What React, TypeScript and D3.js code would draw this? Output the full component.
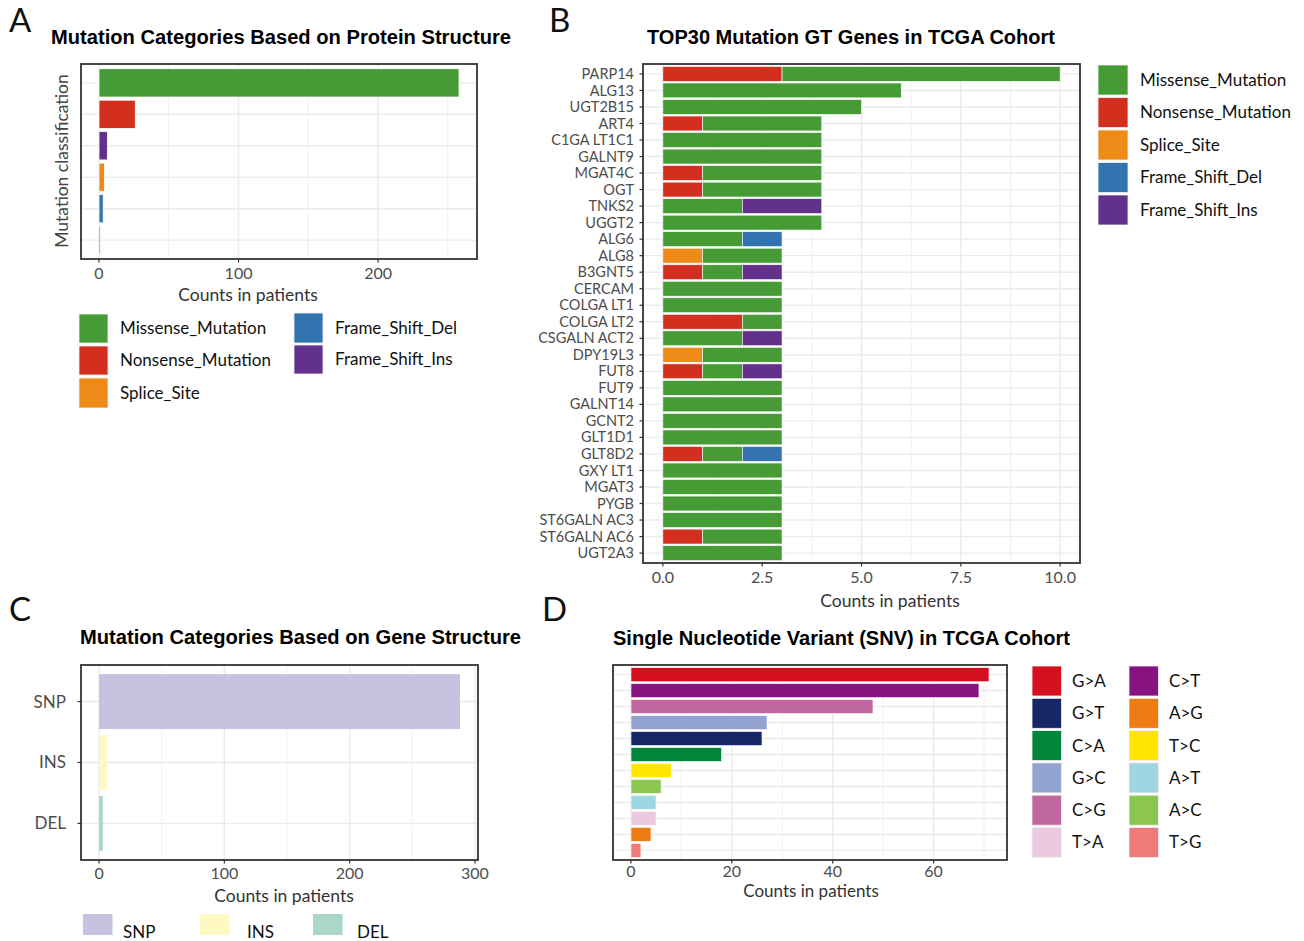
import * as d3 from "d3";

// ---- data ----
const proteinCats = ["Missense_Mutation", "Nonsense_Mutation", "Frame_Shift_Ins", "Splice_Site", "Frame_Shift_Del", "In_Frame_Del"];
const proteinCounts = [258, 26, 6, 4, 3, 1];

const genes = [
  "PARP14", "ALG13", "UGT2B15", "ART4", "C1GA LT1C1", "GALNT9", "MGAT4C", "OGT", "TNKS2", "UGGT2",
  "ALG6", "ALG8", "B3GNT5", "CERCAM", "COLGA LT1", "COLGA LT2", "CSGALN ACT2", "DPY19L3", "FUT8", "FUT9",
  "GALNT14", "GCNT2", "GLT1D1", "GLT8D2", "GXY LT1", "MGAT3", "PYGB", "ST6GALN AC3", "ST6GALN AC6", "UGT2A3",
];
const geneSplice = [0, 0, 0, 0, 0, 0, 0, 0, 0, 0, 0, 1, 0, 0, 0, 0, 0, 1, 0, 0, 0, 0, 0, 0, 0, 0, 0, 0, 0, 0];
const geneNonsense = [3, 0, 0, 1, 0, 0, 1, 1, 0, 0, 0, 0, 1, 0, 0, 2, 0, 0, 1, 0, 0, 0, 0, 1, 0, 0, 0, 0, 1, 0];
const geneMissense = [7, 6, 5, 3, 4, 4, 3, 3, 2, 4, 2, 2, 1, 3, 3, 1, 2, 2, 1, 3, 3, 3, 3, 1, 3, 3, 3, 3, 2, 3];
const geneDel = [0, 0, 0, 0, 0, 0, 0, 0, 0, 0, 1, 0, 0, 0, 0, 0, 0, 0, 0, 0, 0, 0, 0, 1, 0, 0, 0, 0, 0, 0];
const geneIns = [0, 0, 0, 0, 0, 0, 0, 0, 2, 0, 0, 0, 1, 0, 0, 0, 1, 0, 1, 0, 0, 0, 0, 0, 0, 0, 0, 0, 0, 0];

const structureCats = ["SNP", "INS", "DEL"];
const structureCounts = [288, 6, 3];

const snvCats = ["G>A", "C>T", "C>G", "G>C", "G>T", "C>A", "T>C", "A>C", "A>T", "T>A", "A>G", "T>G"];
const snvCounts = [71, 69, 48, 27, 26, 18, 8, 6, 5, 5, 4, 2];

const legendSnvCol1 = ["G>A", "G>T", "C>A", "G>C", "C>G", "T>A"];
const legendSnvCol2 = ["C>T", "A>G", "T>C", "A>T", "A>C", "T>G"];

// ---- styles ----
const FONT = "Lato, 'Open Sans', sans-serif";
const TFONT = "'Liberation Sans', Arial, sans-serif";
const GRID = "#EBEBEB";
const BORDER = "#333333";
const AXIS_TXT = "#4D4D4D";

const mutColor: Record<string, string> = {
  Missense_Mutation: "#479B36",
  Nonsense_Mutation: "#D32F1F",
  Splice_Site: "#EE8A18",
  Frame_Shift_Del: "#3373AF",
  Frame_Shift_Ins: "#62318B",
  In_Frame_Del: "#8C8C8C",
};
const structColor: Record<string, string> = { SNP: "#C6C2DF", INS: "#FEF9C3", DEL: "#A9D7CA" };
const snvColor: Record<string, string> = {
  "G>A": "#D50F1E", "C>T": "#871380", "C>G": "#C167A0", "G>C": "#93A3D0", "G>T": "#162768", "C>A": "#00873C",
  "T>C": "#FFE600", "A>C": "#8CC550", "A>T": "#9ED6E3", "T>A": "#EBCADF", "A>G": "#EE7C13", "T>G": "#EF7A78",
};

type Box = { x0: number; x1: number; y0: number; y1: number };

function scalesFor(box: Box, maxVal: number, n: number) {
  const x = d3.scaleLinear().domain([-0.05 * maxVal, 1.05 * maxVal]).range([box.x0, box.x1]);
  const y = d3.scaleLinear().domain([0.4, n + 0.6]).range([box.y0, box.y1]);
  return { x, y };
}

function Frame({ box, x, y, n, ticks, minor, fmt, tickY }: any) {
  return (
    <g>
      <rect x={box.x0} y={box.y0} width={box.x1 - box.x0} height={box.y1 - box.y0} fill="white" />
      {minor.map((t: number) => (
        <line key={"m" + t} x1={x(t)} x2={x(t)} y1={box.y0} y2={box.y1} stroke={GRID} strokeWidth={0.8} />
      ))}
      {ticks.map((t: number) => (
        <line key={"t" + t} x1={x(t)} x2={x(t)} y1={box.y0} y2={box.y1} stroke={GRID} strokeWidth={1.4} />
      ))}
      {d3.range(1, n + 1).map((i) => (
        <line key={"h" + i} x1={box.x0} x2={box.x1} y1={y(i)} y2={y(i)} stroke={GRID} strokeWidth={1.4} />
      ))}
      {ticks.map((t: number) => (
        <g key={"l" + t}>
          <line x1={x(t)} x2={x(t)} y1={box.y1} y2={box.y1 + 3.5} stroke={BORDER} strokeWidth={1.2} />
          <text x={x(t)} y={tickY} dy="0.35em" textAnchor="middle" fontFamily={FONT} fontSize={16} fill={AXIS_TXT}>
            {fmt(t)}
          </text>
        </g>
      ))}
    </g>
  );
}

function Border({ box }: { box: Box }) {
  return <rect x={box.x0} y={box.y0} width={box.x1 - box.x0} height={box.y1 - box.y0} fill="none" stroke={BORDER} strokeWidth={1.8} />;
}

function Swatch({ x, y, w, h, color, label, tx, fs = 17 }: any) {
  return (
    <g>
      <rect x={x} y={y} width={w} height={h} fill={color} stroke="#f2f2f2" strokeWidth={0.8} />
      <text x={tx} y={y + h / 2} dy="0.35em" fontFamily={FONT} fontSize={fs} fill="#111">{label}</text>
    </g>
  );
}

export default function App() {
  // panel A
  const boxA: Box = { x0: 81, x1: 477, y0: 64, y1: 259 };
  const sA = scalesFor(boxA, d3.max(proteinCounts)!, proteinCats.length);
  // panel B
  const boxB: Box = { x0: 643, x1: 1080, y0: 64, y1: 563 };
  const sB = scalesFor(boxB, 10, genes.length);
  const stackKeys = ["Splice_Site", "Nonsense_Mutation", "Missense_Mutation", "Frame_Shift_Del", "Frame_Shift_Ins"];
  const stackVals = [geneSplice, geneNonsense, geneMissense, geneDel, geneIns];
  const rowsB = genes.map((g, i) => {
    const row: any = { gene: g };
    stackKeys.forEach((k, j) => (row[k] = stackVals[j][i]));
    return row;
  });
  const stacked = d3.stack().keys(stackKeys)(rowsB);
  // panel C
  const boxC: Box = { x0: 81, x1: 478, y0: 665, y1: 860 };
  const sC = scalesFor(boxC, d3.max(structureCounts)!, structureCats.length);
  // panel D
  const boxD: Box = { x0: 613, x1: 1007, y0: 665, y1: 860 };
  const sD = scalesFor(boxD, d3.max(snvCounts)!, snvCats.length);

  const half = 0.45;
  const fmtInt = (t: number) => d3.format("d")(t);
  const fmt1 = (t: number) => d3.format(".1f")(t);

  return (
    <svg width={1304} height={941} style={{ display: "block", position: "absolute", left: 0, top: 0, background: "white" }}>
      <rect width={1304} height={941} fill="white" />

      {/* ---------- A ---------- */}
      <text x={9} y={32} fontFamily={FONT} fontSize={33} fill="#111">A</text>
      <text x={51} y={44} fontFamily={TFONT} fontWeight="bold" fontSize={19.5} textLength={460} lengthAdjust="spacingAndGlyphs" fill="#000">
        Mutation Categories Based on Protein Structure
      </text>
      <Frame box={boxA} x={sA.x} y={sA.y} n={proteinCats.length} ticks={[0, 100, 200]} minor={[50, 150, 250]} fmt={fmtInt} tickY={273} />
      {proteinCats.map((c, i) => (
        <rect key={c} x={sA.x(0)} y={sA.y(i + 1 - half)} width={sA.x(proteinCounts[i]) - sA.x(0)} height={sA.y(i + 1 + half) - sA.y(i + 1 - half)}
          fill={mutColor[c]} stroke="white" strokeWidth={0.8} />
      ))}
      <Border box={boxA} />
      <text x={248} y={295} dy="0.35em" textAnchor="middle" fontFamily={FONT} fontSize={17.5} fill="#333">Counts in patients</text>
      <text transform="translate(62,161) rotate(-90)" dy="0.35em" textAnchor="middle" fontFamily={FONT} fontSize={17.5} fill="#444">Mutation classification</text>
      <Swatch x={79} y={314} w={29} h={29} color={mutColor.Missense_Mutation} label="Missense_Mutation" tx={120} />
      <Swatch x={79} y={346} w={29} h={29} color={mutColor.Nonsense_Mutation} label="Nonsense_Mutation" tx={120} />
      <Swatch x={79} y={378} w={29} h={30} color={mutColor.Splice_Site} label="Splice_Site" tx={120} />
      <Swatch x={294} y={313} w={29} h={30} color={mutColor.Frame_Shift_Del} label="Frame_Shift_Del" tx={335} />
      <Swatch x={294} y={345} w={29} h={29} color={mutColor.Frame_Shift_Ins} label="Frame_Shift_Ins" tx={335} />

      {/* ---------- B ---------- */}
      <text x={549} y={32} fontFamily={FONT} fontSize={33} fill="#111">B</text>
      <text x={647} y={44} fontFamily={TFONT} fontWeight="bold" fontSize={19.5} textLength={408} lengthAdjust="spacingAndGlyphs" fill="#000">
        TOP30 Mutation GT Genes in TCGA Cohort
      </text>
      <Frame box={boxB} x={sB.x} y={sB.y} n={genes.length} ticks={[0, 2.5, 5, 7.5, 10]} minor={[1.25, 3.75, 6.25, 8.75]} fmt={fmt1} tickY={577} />
      {stacked.map((layer) =>
        layer.map((d, i) =>
          d[1] - d[0] > 0 ? (
            <rect key={layer.key + i} x={sB.x(d[0])} y={sB.y(i + 1 - half)} width={sB.x(d[1]) - sB.x(d[0])} height={sB.y(i + 1 + half) - sB.y(i + 1 - half)}
              fill={mutColor[layer.key]} stroke="white" strokeWidth={0.6} />
          ) : null
        )
      )}
      {genes.map((g, i) => (
        <g key={g}>
          <line x1={boxB.x0 - 3.5} x2={boxB.x0} y1={sB.y(i + 1)} y2={sB.y(i + 1)} stroke={BORDER} strokeWidth={1.2} />
          <text x={634} y={sB.y(i + 1)} dy="0.35em" textAnchor="end" fontFamily={FONT} fontSize={14.5} fill={AXIS_TXT}>{g}</text>
        </g>
      ))}
      <Border box={boxB} />
      <text x={890} y={601} dy="0.35em" textAnchor="middle" fontFamily={FONT} fontSize={17.5} fill="#333">Counts in patients</text>
      {["Missense_Mutation", "Nonsense_Mutation", "Splice_Site", "Frame_Shift_Del", "Frame_Shift_Ins"].map((k, i) => (
        <Swatch key={k} x={1098} y={65 + i * 32.5} w={30} h={30} color={mutColor[k]} label={k} tx={1140} />
      ))}

      {/* ---------- C ---------- */}
      <text x={9} y={621} fontFamily={FONT} fontSize={33} fill="#111">C</text>
      <text x={80} y={644} fontFamily={TFONT} fontWeight="bold" fontSize={19.5} textLength={441} lengthAdjust="spacingAndGlyphs" fill="#000">
        Mutation Categories Based on Gene Structure
      </text>
      <Frame box={boxC} x={sC.x} y={sC.y} n={structureCats.length} ticks={[0, 100, 200, 300]} minor={[50, 150, 250]} fmt={fmtInt} tickY={873} />
      {structureCats.map((c, i) => (
        <g key={c}>
          <rect x={sC.x(0)} y={sC.y(i + 1 - half)} width={sC.x(structureCounts[i]) - sC.x(0)} height={sC.y(i + 1 + half) - sC.y(i + 1 - half)}
            fill={structColor[c]} />
          <line x1={boxC.x0 - 3.5} x2={boxC.x0} y1={sC.y(i + 1)} y2={sC.y(i + 1)} stroke={BORDER} strokeWidth={1.2} />
          <text x={66} y={sC.y(i + 1)} dy="0.35em" textAnchor="end" fontFamily={FONT} fontSize={17} fill={AXIS_TXT}>{c}</text>
        </g>
      ))}
      <Border box={boxC} />
      <text x={284} y={896} dy="0.35em" textAnchor="middle" fontFamily={FONT} fontSize={17.5} fill="#333">Counts in patients</text>
      {structureCats.map((c, i) => (
        <g key={"lc" + c}>
          <rect x={[83, 200, 313][i]} y={914} width={29.5} height={21} fill={structColor[c]} />
          <text x={[123, 247, 357][i]} y={932} dy="0.35em" fontFamily={FONT} fontSize={17} fill="#111">{c}</text>
        </g>
      ))}

      {/* ---------- D ---------- */}
      <text x={542} y={621} fontFamily={FONT} fontSize={33} fill="#111">D</text>
      <text x={613} y={645} fontFamily={TFONT} fontWeight="bold" fontSize={19.5} textLength={457} lengthAdjust="spacingAndGlyphs" fill="#000">
        Single Nucleotide Variant (SNV) in TCGA Cohort
      </text>
      <Frame box={boxD} x={sD.x} y={sD.y} n={snvCats.length} ticks={[0, 20, 40, 60]} minor={[10, 30, 50, 70]} fmt={fmtInt} tickY={871} />
      {snvCats.map((c, i) => (
        <rect key={c} x={sD.x(0)} y={sD.y(i + 1 - half)} width={sD.x(snvCounts[i]) - sD.x(0)} height={sD.y(i + 1 + half) - sD.y(i + 1 - half)}
          fill={snvColor[c]} stroke="white" strokeWidth={0.8} />
      ))}
      <Border box={boxD} />
      <text x={811} y={891} dy="0.35em" textAnchor="middle" fontFamily={FONT} fontSize={17} fill="#333">Counts in patients</text>
      {legendSnvCol1.map((c, i) => (
        <Swatch key={"l1" + c} x={1032} y={666 + i * 32.3} w={29.5} h={30} color={snvColor[c]} label={c} tx={1072} />
      ))}
      {legendSnvCol2.map((c, i) => (
        <Swatch key={"l2" + c} x={1129} y={666 + i * 32.3} w={29.5} h={30} color={snvColor[c]} label={c} tx={1169} />
      ))}
    </svg>
  );
}
